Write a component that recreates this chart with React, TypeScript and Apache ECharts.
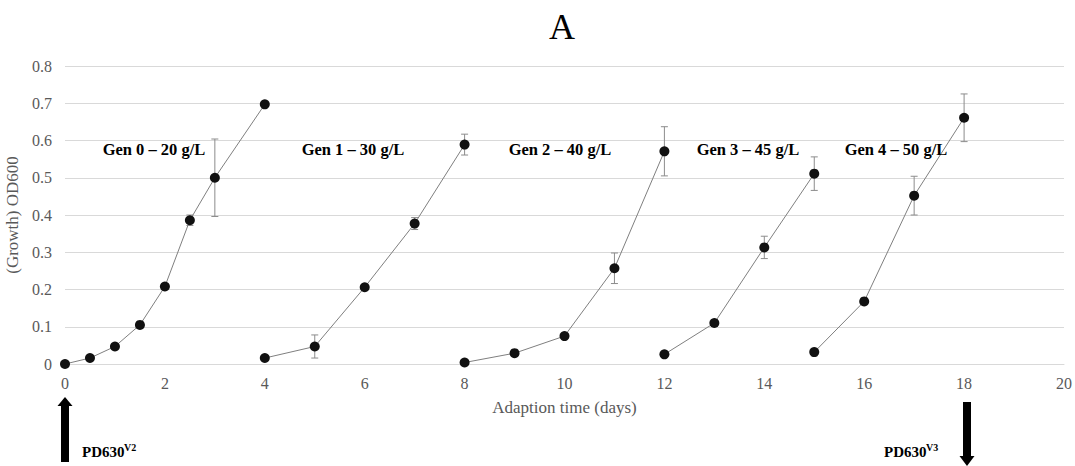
import React, { useEffect, useRef } from "react";
import * as echarts from "echarts";

const FONT = "Liberation Serif";

const gen0X = [0, 0.5, 1, 1.5, 2, 2.5, 3, 4];
const gen0Y = [0.0, 0.016, 0.047, 0.105, 0.208, 0.386, 0.5, 0.697];
const gen0Err = [0, 0, 0, 0, 0.008, 0.014, 0.104, 0];

const gen1X = [4, 5, 6, 7, 8];
const gen1Y = [0.016, 0.047, 0.206, 0.377, 0.589];
const gen1Err = [0, 0.031, 0, 0.016, 0.028];

const gen2X = [8, 9, 10, 11, 12];
const gen2Y = [0.004, 0.029, 0.075, 0.257, 0.571];
const gen2Err = [0, 0, 0, 0.041, 0.066];

const gen3X = [12, 13, 14, 15];
const gen3Y = [0.026, 0.11, 0.313, 0.511];
const gen3Err = [0, 0.009, 0.03, 0.045];

const gen4X = [15, 16, 17, 18];
const gen4Y = [0.032, 0.168, 0.452, 0.661];
const gen4Err = [0.01, 0.007, 0.052, 0.064];

const genNames = ["Gen 0 – 20 g/L", "Gen 1 – 30 g/L", "Gen 2 – 40 g/L", "Gen 3 – 45 g/L", "Gen 4 – 50 g/L"];

const xTicksMax = 20;
const yTicksMax = 0.8;

export default function App() {
  const ref = useRef<HTMLDivElement>(null);
  useEffect(() => {
    document.body.style.margin = "0";
    const chart = echarts.init(ref.current!, null, { renderer: "svg" });
    const gens = [
      [gen0X, gen0Y, gen0Err],
      [gen1X, gen1Y, gen1Err],
      [gen2X, gen2Y, gen2Err],
      [gen3X, gen3Y, gen3Err],
      [gen4X, gen4Y, gen4Err],
    ];
    const lineSeries = gens.map(([xs, ys], i) => ({
      type: "line",
      name: genNames[i],
      data: (xs as number[]).map((x, j) => [x, (ys as number[])[j]]),
      symbol: "circle",
      symbolSize: 10,
      itemStyle: { color: "#111111" },
      lineStyle: { color: "#7f7f7f", width: 1 },
      z: 3,
    }));
    const errData: number[][] = [];
    gens.forEach(([xs, ys, es]) => {
      (xs as number[]).forEach((x, j) => {
        const e = (es as number[])[j];
        if (e > 0) errData.push([x, (ys as number[])[j] - e, (ys as number[])[j] + e]);
      });
    });
    const errSeries = {
      type: "custom",
      data: errData,
      z: 2,
      renderItem: (params: any, api: any) => {
        const lo = api.coord([api.value(0), api.value(1)]);
        const hi = api.coord([api.value(0), api.value(2)]);
        const w = 3.5;
        const style = { stroke: "#8c8c8c", lineWidth: 1 };
        return {
          type: "group",
          children: [
            { type: "line", shape: { x1: lo[0], y1: lo[1], x2: hi[0], y2: hi[1] }, style },
            { type: "line", shape: { x1: lo[0] - w, y1: lo[1], x2: lo[0] + w, y2: lo[1] }, style },
            { type: "line", shape: { x1: hi[0] - w, y1: hi[1], x2: hi[0] + w, y2: hi[1] }, style },
          ],
        };
      },
    };
    const labelCenters = [154, 353, 560, 748, 896];
    const graphic: any[] = [
      {
        type: "text",
        x: 562,
        y: 27,
        style: { text: "A", fontFamily: FONT, fontSize: 36, fill: "#000", align: "center", verticalAlign: "middle" },
      },
      ...genNames.map((t, i) => ({
        type: "text",
        x: labelCenters[i],
        y: 149,
        style: {
          text: t,
          fontFamily: FONT,
          fontSize: 16.5,
          fontWeight: "bold",
          fill: "#000",
          align: "center",
          verticalAlign: "middle",
        },
        z: 10,
      })),
      // up arrow at x=0
      { type: "rect", shape: { x: 61, y: 403, width: 8, height: 59 }, style: { fill: "#000" } },
      { type: "polygon", shape: { points: [[65, 397], [57.5, 406], [72.5, 406]] }, style: { fill: "#000" } },
      { type: "text", x: 82, y: 452, style: { text: "PD630", fontFamily: FONT, fontSize: 15, fontWeight: "bold", fill: "#000", verticalAlign: "middle" } },
      { type: "text", x: 124, y: 447, style: { text: "V2", fontFamily: FONT, fontSize: 10, fontWeight: "bold", fill: "#000", verticalAlign: "middle" } },
      // down arrow at x=18
      { type: "rect", shape: { x: 963, y: 402, width: 8, height: 55 }, style: { fill: "#000" } },
      { type: "polygon", shape: { points: [[967, 466], [959.5, 456], [974.5, 456]] }, style: { fill: "#000" } },
      { type: "text", x: 884, y: 452, style: { text: "PD630", fontFamily: FONT, fontSize: 15, fontWeight: "bold", fill: "#000", verticalAlign: "middle" } },
      { type: "text", x: 926, y: 447, style: { text: "V3", fontFamily: FONT, fontSize: 10, fontWeight: "bold", fill: "#000", verticalAlign: "middle" } },
    ];
    chart.setOption({
      animation: false,
      grid: { left: 65, right: 11, top: 66, bottom: 102, containLabel: false, outerBoundsMode: "none" },
      xAxis: {
        type: "value",
        min: 0,
        max: xTicksMax,
        interval: 2,
        name: "Adaption time (days)",
        nameLocation: "middle",
        nameGap: 35,
        nameTextStyle: { fontFamily: FONT, fontSize: 17, color: "#595959" },
        axisLine: { lineStyle: { color: "#d9d9d9" } },
        axisTick: { show: false },
        axisLabel: { fontFamily: FONT, fontSize: 16, color: "#595959", margin: 11 },
        splitLine: { show: false },
      },
      yAxis: {
        type: "value",
        min: 0,
        max: yTicksMax,
        interval: 0.1,
        name: "(Growth) OD600",
        nameLocation: "middle",
        nameGap: 36,
        nameTextStyle: { fontFamily: FONT, fontSize: 17, color: "#595959" },
        axisLine: { show: false },
        axisTick: { show: false },
        axisLabel: { fontFamily: FONT, fontSize: 16, color: "#595959", margin: 13 },
        splitLine: { lineStyle: { color: "#d9d9d9" } },
      },
      graphic,
      series: [errSeries, ...lineSeries],
    });
    return () => chart.dispose();
  }, []);
  return <div ref={ref} style={{ width: 1075, height: 466 }} />;
}
